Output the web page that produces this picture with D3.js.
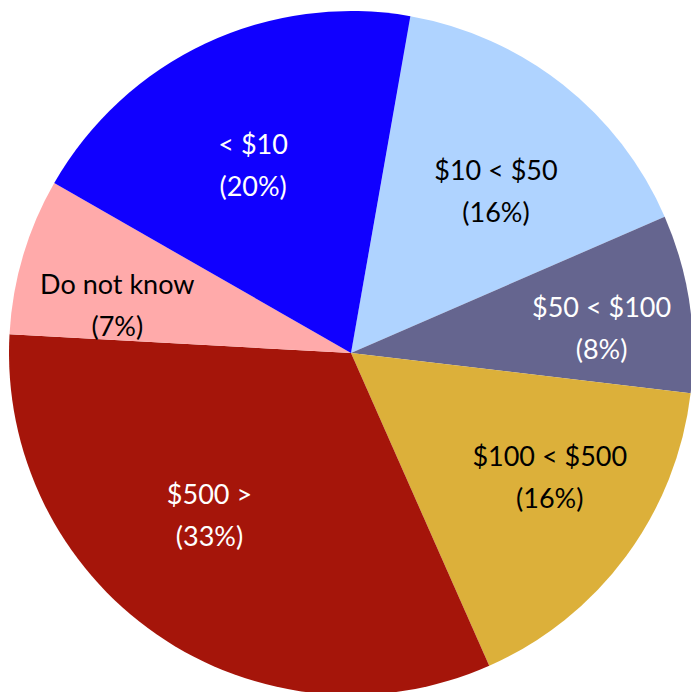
<!DOCTYPE html>
<html>
<head>
<meta charset="utf-8">
<script src="https://cdn.jsdelivr.net/npm/d3@7"></script>
<style>
  html, body { margin: 0; padding: 0; background: #fff; }
  svg { display: block; }
  text { font-family: Lato, "Open Sans", sans-serif; }
</style>
</head>
<body>
<svg id="chart" width="691" height="692"></svg>
<script>
// ---- data ----
const categories = ["$10 < $50", "$50 < $100", "$100 < $500", "$500 >", "Do not know", "< $10"];
const values     = [15.7, 8.4, 16.5, 32.5, 7.4, 19.5];
const pctLabels  = ["(16%)", "(8%)", "(16%)", "(33%)", "(7%)", "(20%)"];
const colors     = ["#AFD3FF", "#65658F", "#DCB03A", "#A5150A", "#FFAAAA", "#1000FF"];
const textColors = ["#000000", "#FFFFFF", "#000000", "#FFFFFF", "#000000", "#FFFFFF"];

// ---- layout ----
const W = 691, H = 692;
const cx = 351, cy = 353, R = 342;
const startDeg = 10;
const labelR = 226;
const labelNudge = [[5, 15], [27, 7], [17, -11], [-13, -24], [-17, 16], [-2, 16]];

const svg = d3.select("#chart");
const g = svg.append("g").attr("transform", `translate(${cx},${cy})`);

const data = categories.map((c, i) => ({ cat: c, value: values[i], pct: pctLabels[i], i }));

const pie = d3.pie()
  .value(d => d.value)
  .sort(null)
  .startAngle(startDeg * Math.PI / 180)
  .endAngle((startDeg + 360) * Math.PI / 180);

const arcs = pie(data);
const arc = d3.arc().innerRadius(0).outerRadius(R);
const labelArc = d3.arc().innerRadius(labelR).outerRadius(labelR);

g.selectAll("path.slice")
  .data(arcs)
  .join("path")
  .attr("class", "slice")
  .attr("d", arc)
  .attr("fill", d => colors[d.data.i]);

const lab = g.selectAll("g.label")
  .data(arcs)
  .join("g")
  .attr("class", "label")
  .attr("transform", d => {
    const [x, y] = labelArc.centroid(d);
    const n = labelNudge[d.data.i];
    return `translate(${x + n[0]},${y + n[1]})`;
  });

lab.append("text")
  .attr("text-anchor", "middle")
  .attr("dominant-baseline", "central")
  .attr("y", -21)
  .attr("font-size", 27)
  .attr("fill", d => textColors[d.data.i])
  .text(d => d.data.cat);

lab.append("text")
  .attr("text-anchor", "middle")
  .attr("dominant-baseline", "central")
  .attr("y", 21)
  .attr("font-size", 27)
  .attr("fill", d => textColors[d.data.i])
  .text(d => d.data.pct);
</script>
</body>
</html>
